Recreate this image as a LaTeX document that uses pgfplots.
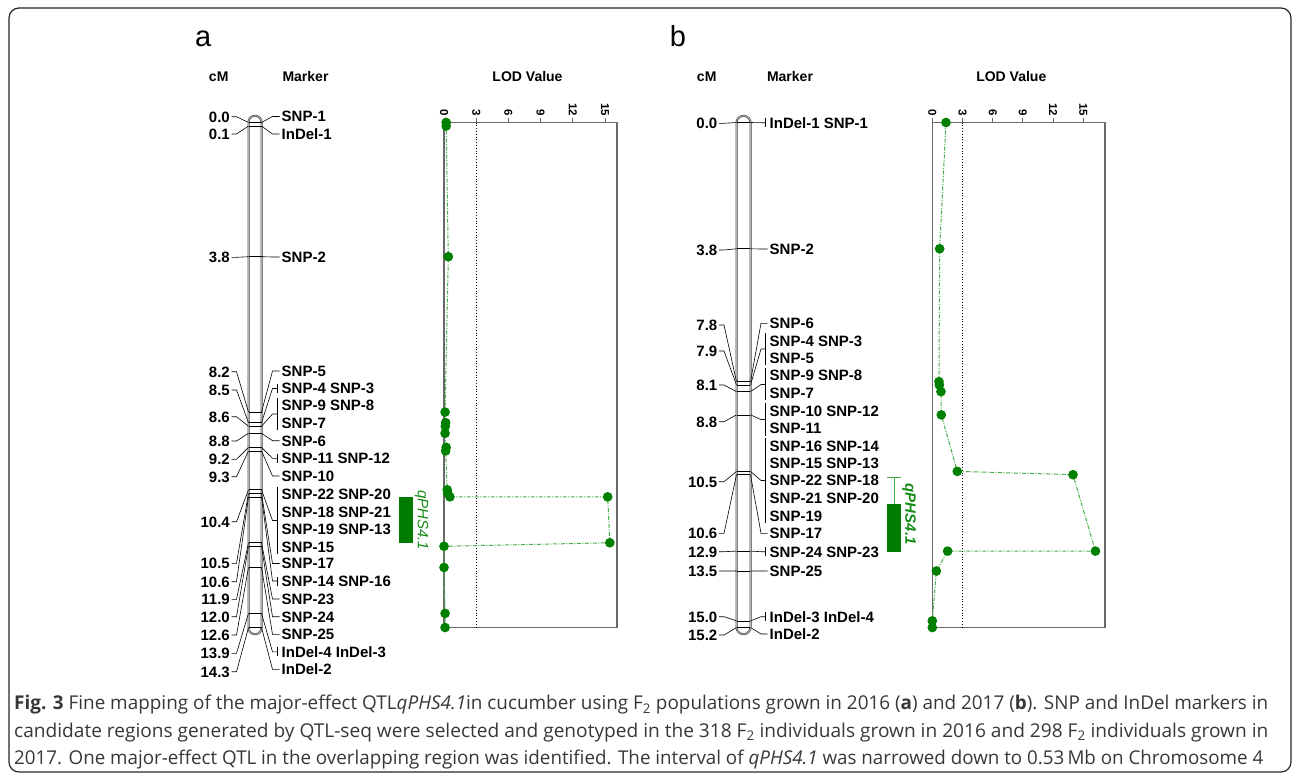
\documentclass[border=0pt]{standalone}
\usepackage{pgfplots}
\pgfplotsset{compat=1.18}
\usepackage{pgfplotstable}
\usepackage{fontspec}
\usepackage{graphicx}
\setmainfont{Liberation Sans}
\newfontfamily\capfont{Open Sans}

\definecolor{dotgreen}{RGB}{0,128,0}
\definecolor{linegreen}{RGB}{70,175,70}
\definecolor{qgreen}{RGB}{0,125,0}
\definecolor{txtgreen}{RGB}{20,140,20}
\definecolor{axgray}{RGB}{105,105,105}
\definecolor{captext}{RGB}{55,55,55}

% LOD profile, panel a (2016)
\pgfplotstableread{
lod cM
0.20 0.0
0.20 0.1
0.40 3.8
0.10 8.2
0.15 8.5
0.12 8.6
0.10 8.8
0.20 9.2
0.15 9.3
0.30 10.4
0.35 10.5
0.55 10.6
15.25 10.6
15.45 11.9
0.00 12.0
0.00 12.6
0.10 13.9
0.10 14.3
}\lodA

% LOD profile, panel b (2017)
\pgfplotstableread{
lod cM
1.36 0.0
0.73 3.8
0.66 7.8
0.70 7.9
0.86 8.1
0.89 8.8
2.48 10.5
13.97 10.6
16.20 12.9
1.52 12.9
0.40 13.5
0.00 15.0
0.00 15.2
}\lodB

\pgfplotstableread{
cM
0.0
0.1
3.8
8.2
8.5
8.6
8.8
9.2
9.3
10.4
10.5
10.6
11.9
12.0
12.6
13.9
14.3
}\mkA

\pgfplotstableread{
cM
0.0
3.8
7.8
7.9
8.1
8.8
10.5
10.6
12.9
13.5
15.0
15.2
}\mkB

\newcommand\ya[1]{-122.5-#1*35.3147}
\newcommand\yb[1]{-122.5-#1*33.2237}

\tikzset{
 lab/.style={font=\fontsize{15}{17}\selectfont\bfseries, inner sep=0pt, text height=10.8pt, text depth=0pt},
 conn/.style={black, line width=0.6pt},
 hdr/.style={font=\fontsize{14}{16}\selectfont\bfseries, inner sep=0pt, anchor=base},
}
% panel a helpers
\newcommand\La[2]{\node[lab,anchor=east] at (230,-#1) {#2};\draw[conn] (231.5,-#1) -- (236.5,-#1) -- (248.5,\ya{#2});}
\newcommand\Ra[3]{\node[lab,anchor=west] at (281.5,-#1) {#3};\draw[conn] (261.5,\ya{#2}) -- (272.5,-#1) -- (279.5,-#1);}
\newcommand\Rta[3]{\node[lab,anchor=west] at (281.5,-#1) {#3};\draw[conn] (261.5,\ya{#2}) -- (272.5,-#1) -- (277.5,-#1);\draw[conn] (277.5,-#1+4.5) -- (277.5,-#1-4.5);}
\newcommand\Ga[4]{\draw[conn] (277.5,-#1) -- (277.5,-#2);\draw[conn] (261.5,\ya{#4}) -- (272.5,-#3) -- (277.5,-#3);}
\newcommand\Ta[2]{\node[lab,anchor=west] at (281.5,-#1) {#2};}
% panel b helpers
\newcommand\Lb[2]{\node[lab,anchor=east] at (717.5,-#1) {#2};\draw[conn] (719,-#1) -- (724,-#1) -- (736.5,\yb{#2});}
\newcommand\Rb[3]{\node[lab,anchor=west] at (769.5,-#1) {#3};\draw[conn] (750.5,\yb{#2}) -- (761,-#1) -- (767.5,-#1);}
\newcommand\Rtb[3]{\node[lab,anchor=west] at (769.5,-#1) {#3};\draw[conn] (750.5,\yb{#2}) -- (761,-#1) -- (765.5,-#1);\draw[conn] (765.5,-#1+4.5) -- (765.5,-#1-4.5);}
\newcommand\Gb[4]{\draw[conn] (765.5,-#1) -- (765.5,-#2);\draw[conn] (750.5,\yb{#4}) -- (761,-#3) -- (765.5,-#3);}
\newcommand\Tb[2]{\node[lab,anchor=west] at (769.5,-#1) {#2};}

\pgfplotsset{
 lodaxis/.style={
  anchor=south west, scale only axis, height=505pt,
  xmin=0, ymin=0, y dir=reverse, clip=false,
  xtick={0,3,6,9,12,15}, ytick=\empty,
  xtick pos=right, xticklabel pos=right,
  tick align=outside, major tick length=5pt,
  tick style={axgray, line width=1pt},
  axis line style={axgray, line width=1.6pt},
  /pgf/number format/assume math mode=true,
  xticklabel style={rotate=-90, anchor=east, font=\fontsize{11.5}{13}\selectfont\bfseries, inner sep=1pt},
 },
 chromaxis/.style={
  anchor=south west, scale only axis, height=505pt,
  ymin=0, y dir=reverse, hide axis, clip=false,
 },
 lodline/.style={linegreen, line width=1pt, dash pattern=on 4pt off 1.5pt on 1pt off 1.5pt,
  mark=*, mark size=4.3pt, mark options={solid, draw=dotgreen, fill=dotgreen}},
 markerlines/.style={draw=none, mark=none, forget plot,
  error bars/.cd, x dir=both, x fixed=6.5, error mark=none,
  error bar style={draw=black, solid, line width=0.6pt}},
}

\begin{document}
\begin{tikzpicture}[x=1pt,y=1pt]
% frame
\draw[black!85, line width=1.2pt, rounded corners=10pt] (9,-8) rectangle (1291,-772);

% ===================== panel a =====================
\node[font=\fontsize{29}{32}\selectfont, anchor=base, inner sep=0pt] at (203.3,-46.7) {a};
\node[hdr] at (218.7,-81.5) {cM};
\node[hdr] at (305.5,-81.5) {Marker};
\node[hdr] at (527.5,-81.5) {LOD Value};

\begin{axis}[chromaxis, at={(190pt,-627.5pt)}, width=250pt, xmin=190, xmax=440, ymax=14.3]
\draw[black!75, line width=0.55pt, double=black!30, double distance=0.9pt, rounded corners=6.4pt]
  (axis cs:248.5,-0.19) rectangle (axis cs:261.5,14.49);
\addplot[markerlines] table[x expr=255, y=cM] {\mkA};
\addplot[fill=qgreen, draw=none] coordinates {(399.3,10.6) (412.7,10.6) (412.7,11.9) (399.3,11.9)};
\node[rotate=-90, text=txtgreen, font=\fontsize{15}{17}\selectfont\itshape, inner sep=0pt] at (axis cs:421.5,11.26) {qPHS4.1};
\end{axis}

\La{116.7}{0.0}
\La{134}{0.1}
\La{257.3}{3.8}
\La{371.7}{8.2}
\La{390}{8.5}
\La{416.7}{8.6}
\La{441}{8.8}
\La{459.3}{9.2}
\La{476.7}{9.3}
\La{521.7}{10.4}
\La{563.3}{10.5}
\La{581.7}{10.6}
\La{599.3}{11.9}
\La{616.7}{12.0}
\La{635}{12.6}
\La{653.3}{13.9}
\La{671.7}{14.3}

\Ra{116.5}{0.0}{SNP-1}
\Ra{134}{0.1}{InDel-1}
\Ra{257}{3.8}{SNP-2}
\Ra{371}{8.2}{SNP-5}
\Rta{388.5}{8.5}{SNP-4 SNP-3}
\Ga{398}{430}{414}{8.6}
\Ta{405}{SNP-9 SNP-8}
\Ta{422.7}{SNP-7}
\Ra{440.7}{8.8}{SNP-6}
\Rta{458.3}{9.2}{SNP-11 SNP-12}
\Ra{476}{9.3}{SNP-10}
\Ga{487}{554}{520.5}{10.4}
\Ta{494}{SNP-22 SNP-20}
\Ta{511.7}{SNP-18 SNP-21}
\Ta{529.2}{SNP-19 SNP-13}
\Ta{546.8}{SNP-15}
\Ra{563.5}{10.5}{SNP-17}
\Rta{581}{10.6}{SNP-14 SNP-16}
\Ra{599}{11.9}{SNP-23}
\Ra{616.7}{12.0}{SNP-24}
\Ra{634.3}{12.6}{SNP-25}
\Rta{651.8}{13.9}{InDel-4 InDel-3}
\Ra{669.3}{14.3}{InDel-2}

\begin{axis}[lodaxis, at={(444pt,-627.5pt)}, width=172.7pt, xmax=16.09, ymax=14.3]
\addplot[black, line width=0.8pt, dotted] coordinates {(3,0) (3,14.3)};
\addplot[lodline] table[x=lod, y=cM] {\lodA};
\end{axis}

% ===================== panel b =====================
\node[font=\fontsize{29}{32}\selectfont, anchor=base, inner sep=0pt] at (678,-46.7) {b};
\node[hdr] at (706.7,-81.5) {cM};
\node[hdr] at (790,-81.5) {Marker};
\node[hdr] at (1011.3,-81.5) {LOD Value};

\begin{axis}[chromaxis, at={(680pt,-627.5pt)}, width=245pt, xmin=680, xmax=925, ymax=15.2]
\draw[black!75, line width=0.55pt, double=black!30, double distance=0.9pt, rounded corners=6.9pt]
  (axis cs:736.5,-0.2) rectangle (axis cs:750.5,15.4);
\addplot[markerlines] table[x expr=743.5, y=cM] {\mkB};
\addplot[linegreen, line width=0.8pt] coordinates {(894,10.69) (894,11.49)};
\addplot[linegreen, line width=0.8pt] coordinates {(887.3,10.69) (900.7,10.69)};
\addplot[fill=qgreen, draw=none] coordinates {(887.3,11.49) (900.7,11.49) (900.7,12.92) (887.3,12.92)};
\node[rotate=-90, text=txtgreen, font=\fontsize{15}{17}\selectfont\bfseries\itshape, inner sep=0pt] at (axis cs:909,11.79) {qPHS4.1};
\end{axis}

\Lb{123.3}{0.0}
\Lb{250}{3.8}
\Lb{325}{7.8}
\Lb{351}{7.9}
\Lb{385}{8.1}
\Lb{421.7}{8.8}
\Lb{481.7}{10.5}
\Lb{533.3}{10.6}
\Lb{551.7}{12.9}
\Lb{571}{13.5}
\Lb{616.7}{15.0}
\Lb{635}{15.2}

\Rtb{122.7}{0.0}{InDel-1 SNP-1}
\Rb{249}{3.8}{SNP-2}
\Rb{323.3}{7.8}{SNP-6}
\Gb{333}{365}{349}{7.9}
\Tb{340.7}{SNP-4 SNP-3}
\Tb{357.7}{SNP-5}
\Gb{368}{400}{384.5}{8.1}
\Tb{375.5}{SNP-9 SNP-8}
\Tb{393.3}{SNP-7}
\Gb{403}{436}{419.5}{8.8}
\Tb{410.7}{SNP-10 SNP-12}
\Tb{428.3}{SNP-11}
\Gb{438}{523}{480.5}{10.5}
\Tb{446}{SNP-16 SNP-14}
\Tb{463.3}{SNP-15 SNP-13}
\Tb{480.5}{SNP-22 SNP-18}
\Tb{498}{SNP-21 SNP-20}
\Tb{515.7}{SNP-19}
\Rb{533.3}{10.6}{SNP-17}
\Rtb{551.7}{12.9}{SNP-24 SNP-23}
\Rb{571}{13.5}{SNP-25}
\Rtb{616.7}{15.0}{InDel-3 InDel-4}
\Rb{634}{15.2}{InDel-2}

\begin{axis}[lodaxis, at={(932.3pt,-627.5pt)}, width=172.4pt, xmax=17.12, ymax=15.2]
\addplot[black, line width=0.8pt, dotted] coordinates {(3,0) (3,15.2)};
\addplot[lodline] table[x=lod, y=cM] {\lodB};
\end{axis}

% ===================== caption =====================
\node[anchor=base west, inner sep=0pt, text=captext] at (14,-709.5) {\resizebox{1254pt}{\height}{\capfont\fontsize{19}{23}\selectfont\textbf{Fig. 3} Fine mapping of the major-effect QTL\textit{qPHS4.1}in cucumber using F\textsubscript{2} populations grown in 2016 (\textbf{a}) and 2017 (\textbf{b}). SNP and InDel markers in}};
\node[anchor=base west, inner sep=0pt, text=captext] at (14,-737) {\resizebox{1254pt}{\height}{\capfont\fontsize{19}{23}\selectfont candidate regions generated by QTL-seq were selected and genotyped in the 318 F\textsubscript{2} individuals grown in 2016 and 298 F\textsubscript{2} individuals grown in}};
\node[anchor=base west, inner sep=0pt, text=captext] at (14,-764) {\resizebox{1249pt}{\height}{\capfont\fontsize{19}{23}\selectfont 2017. One major-effect QTL in the overlapping region was identified. The interval of \textit{qPHS4.1} was narrowed down to 0.53\,Mb on Chromosome 4}};

\pgfresetboundingbox
\useasboundingbox (0,0) rectangle (1295,-774);
\end{tikzpicture}
\end{document}
